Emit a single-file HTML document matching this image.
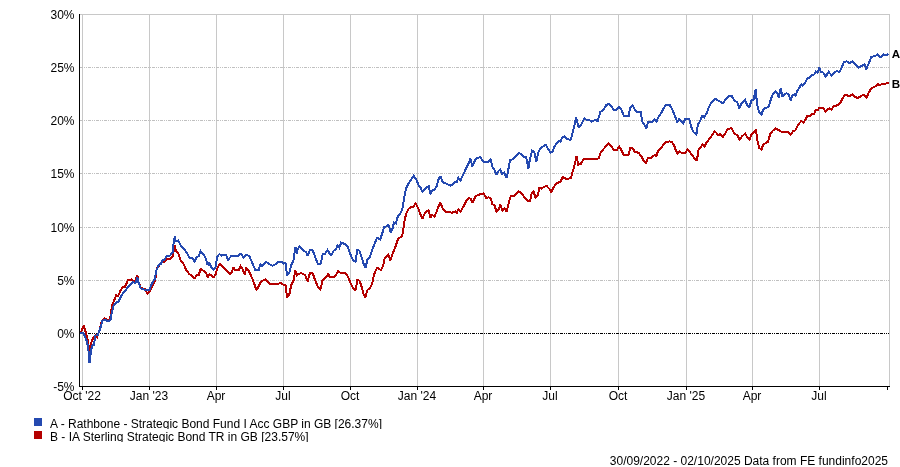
<!DOCTYPE html>
<html><head><meta charset="utf-8"><title>Chart</title>
<style>html,body{margin:0;padding:0;background:#fff}svg{display:block}text{font-family:"Liberation Sans",Arial,sans-serif;font-size:12px;fill:#000}</style></head><body>
<svg width="900" height="467" viewBox="0 0 900 467">
<rect width="900" height="467" fill="#fff"/>
<g shape-rendering="crispEdges">
<rect x="80" y="14" width="810" height="1" fill="#c8c8c8"/>
<rect x="889" y="14" width="1" height="372" fill="#c8c8c8"/>
<rect x="82" y="15" width="1" height="371" fill="#c8c8c8"/>
<rect x="149" y="15" width="1" height="371" fill="#c8c8c8"/>
<rect x="216" y="15" width="1" height="371" fill="#c8c8c8"/>
<rect x="283" y="15" width="1" height="371" fill="#c8c8c8"/>
<rect x="350" y="15" width="1" height="371" fill="#c8c8c8"/>
<rect x="417" y="15" width="1" height="371" fill="#c8c8c8"/>
<rect x="483" y="15" width="1" height="371" fill="#c8c8c8"/>
<rect x="550" y="15" width="1" height="371" fill="#c8c8c8"/>
<rect x="618" y="15" width="1" height="371" fill="#c8c8c8"/>
<rect x="686" y="15" width="1" height="371" fill="#c8c8c8"/>
<rect x="752" y="15" width="1" height="371" fill="#c8c8c8"/>
<rect x="819" y="15" width="1" height="371" fill="#c8c8c8"/>
<line x1="80" x2="889" y1="67.5" y2="67.5" stroke="#c0c0c0" stroke-width="1" stroke-dasharray="3 1 1 1 1 1"/>
<line x1="80" x2="889" y1="120.5" y2="120.5" stroke="#c0c0c0" stroke-width="1" stroke-dasharray="3 1 1 1 1 1"/>
<line x1="80" x2="889" y1="173.5" y2="173.5" stroke="#c0c0c0" stroke-width="1" stroke-dasharray="3 1 1 1 1 1"/>
<line x1="80" x2="889" y1="227.5" y2="227.5" stroke="#c0c0c0" stroke-width="1" stroke-dasharray="3 1 1 1 1 1"/>
<line x1="80" x2="889" y1="280.5" y2="280.5" stroke="#c0c0c0" stroke-width="1" stroke-dasharray="3 1 1 1 1 1"/>
<line x1="80" x2="889" y1="333.5" y2="333.5" stroke="#000" stroke-width="1" stroke-dasharray="3 1 1 1 1 1"/>
</g>
<g fill="none" stroke-width="2" stroke-linejoin="miter" stroke-miterlimit="2.1" shape-rendering="crispEdges"><polyline stroke="#b40000" points="80.0,333.0 81.8,330.5 83.7,325.5 85.6,331.9 87.6,339.6 89.5,351.5 90.8,343.4 93.4,337.6 95.3,335.2 97.2,337.0 99.8,329.3 101.7,321.0 104.3,318.4 108.0,320.2 110.0,319.0 111.0,312.6 112.0,305.8 114.5,299.7 116.0,295.2 118.2,296.0 120.5,290.7 122.7,287.0 125.0,286.6 128.0,280.2 131.7,279.4 134.7,281.7 137.4,275.7 138.5,281.7 140.7,287.7 145.2,289.2 147.5,293.7 149.7,291.4 152.7,285.4 155.4,279.4 156.7,269.0 158.7,266.0 161.7,262.2 164.7,261.5 167.7,258.5 170.7,258.5 172.9,256.2 174.7,245.0 175.9,251.0 178.2,253.2 180.4,260.0 183.4,263.7 185.7,269.0 188.7,273.4 191.6,275.7 194.6,278.2 196.9,275.0 198.7,275.0 200.6,269.0 202.9,270.4 205.9,272.7 207.7,277.2 209.6,274.2 211.9,275.7 213.7,277.2 215.6,274.2 217.6,267.4 220.1,263.7 223.0,267.2 226.7,271.0 229.7,274.0 232.0,271.7 233.5,267.2 235.0,270.2 238.7,270.2 240.7,266.2 242.5,268.7 244.7,274.7 246.2,268.0 248.5,270.2 252.2,278.4 254.5,284.4 256.3,289.7 258.2,287.4 260.1,283.0 262.7,280.7 265.7,279.2 269.4,283.7 278.4,283.7 280.7,282.6 283.7,285.2 285.5,285.2 287.1,297.6 289.2,295.0 291.2,285.2 293.7,280.0 295.4,270.2 296.7,275.4 298.7,273.7 301.6,273.2 305.4,275.4 307.6,281.4 309.9,273.2 312.6,273.2 315.1,280.0 318.1,287.4 320.4,289.7 322.6,280.0 325.6,277.7 328.2,274.2 330.0,277.0 333.7,277.0 336.0,274.7 338.2,271.2 340.5,272.7 345.0,272.7 347.7,276.2 350.5,283.0 353.2,288.2 355.5,290.4 357.4,279.6 359.5,280.7 361.8,287.4 363.7,295.0 365.5,297.2 367.5,289.7 369.7,288.6 371.9,284.4 374.2,274.0 377.2,267.7 380.9,270.2 383.2,265.7 384.7,258.2 388.4,254.5 390.4,260.5 392.9,253.0 395.9,245.5 398.2,238.3 401.2,236.8 402.4,235.0 403.7,227.2 404.8,219.0 406.7,212.2 409.0,208.4 411.2,207.0 413.4,206.7 415.7,203.2 417.9,207.7 420.2,213.7 422.4,218.6 425.4,212.2 428.4,210.2 430.4,217.4 432.2,214.7 434.4,216.7 436.7,211.4 438.6,206.2 440.4,202.5 442.7,208.4 446.4,212.2 452.4,212.6 455.4,211.4 456.9,212.6 458.4,209.2 460.6,211.7 463.6,206.2 466.6,200.5 468.9,198.0 470.7,198.7 472.6,202.5 474.9,197.5 476.7,195.7 480.0,194.2 483.7,193.3 486.4,198.4 488.6,197.2 490.9,198.4 492.4,204.0 494.6,205.5 496.5,211.5 498.7,209.2 500.4,204.7 502.5,210.3 504.3,208.5 506.6,211.5 508.8,202.5 510.7,196.1 514.5,195.7 518.6,191.2 521.6,193.5 527.2,200.6 530.2,200.6 531.3,194.2 533.6,191.6 535.4,197.2 538.0,194.6 539.4,187.8 541.1,188.6 544.1,186.7 546.7,186.0 549.4,189.0 551.3,192.7 553.1,188.2 556.1,183.7 560.6,181.4 562.9,177.0 566.6,179.2 571.1,177.7 572.6,171.7 574.7,164.7 576.5,156.4 578.2,164.7 580.7,164.0 583.7,159.1 597.2,159.1 598.7,157.9 601.0,151.9 604.7,147.7 608.4,143.7 611.4,146.7 613.7,149.7 616.7,150.1 619.2,146.7 621.6,150.4 623.4,154.6 628.7,154.6 630.2,148.2 632.4,147.7 634.7,151.9 638.4,152.7 641.4,156.4 643.7,160.9 645.9,163.2 648.1,157.6 651.1,157.9 654.9,154.9 656.4,156.1 658.2,150.4 661.6,147.4 665.4,142.2 669.9,141.4 671.6,141.9 674.0,144.8 675.4,149.1 677.5,153.4 679.4,151.2 681.5,152.8 685.5,152.8 687.4,149.1 690.3,152.6 693.6,157.1 696.5,160.6 697.8,155.5 698.1,150.4 700.8,147.2 702.4,144.6 704.5,146.4 706.4,142.7 711.0,136.7 714.7,131.1 718.4,135.2 719.9,134.1 722.9,136.7 725.2,133.7 727.4,129.2 731.6,128.1 734.2,133.7 737.2,135.2 739.7,139.7 742.4,135.9 745.1,133.7 746.9,136.7 749.5,139.7 751.4,134.1 753.7,132.6 755.9,129.6 757.4,140.4 759.2,147.9 761.4,149.7 763.4,144.2 767.9,141.9 770.1,134.4 772.4,131.1 775.7,128.4 778.4,129.9 781.5,131.8 787.5,131.8 790.5,134.8 793.1,131.1 795.4,130.3 797.2,126.6 799.1,123.6 801.3,121.0 803.6,122.5 805.8,119.1 807.3,116.1 810.3,115.7 811.8,113.9 814.1,113.9 815.6,110.1 818.2,109.7 819.3,107.5 823.4,107.9 825.5,111.6 827.6,109.0 829.4,108.4 831.5,109.7 833.6,106.0 836.2,105.6 838.4,104.7 840.7,102.2 842.9,97.7 845.2,94.7 849.7,96.2 852.7,94.2 854.2,96.6 857.9,98.1 861.6,95.7 863.9,95.1 866.6,97.7 868.4,93.2 871.4,88.2 875.1,86.4 877.7,84.2 879.6,85.2 882.6,83.7 888.6,83.4"/><polyline stroke="#2449b0" points="80.0,333.5 83.5,333.2 86.3,339.6 88.2,347.3 89.5,363.0 90.8,352.4 92.0,346.0 94.0,344.7 95.3,335.7 97.8,335.0 100.4,328.0 102.3,321.0 105.0,319.6 108.0,321.6 110.7,319.0 111.7,312.8 113.6,306.0 116.2,302.6 118.8,301.3 121.3,295.6 125.8,289.8 129.0,285.9 132.7,281.8 135.5,283.2 137.3,277.2 138.5,282.4 140.7,288.4 145.2,290.0 149.3,290.0 152.0,283.2 154.6,279.4 156.4,270.4 158.7,265.2 161.0,263.7 162.4,260.7 164.7,259.2 167.0,256.2 170.0,255.5 172.6,252.5 173.7,242.0 174.7,236.7 175.9,241.2 178.2,240.5 180.4,245.0 183.4,248.0 187.2,253.2 189.4,257.7 192.4,257.7 194.6,261.5 196.9,257.0 198.7,256.2 200.6,251.0 203.6,254.7 205.9,258.5 207.7,265.2 208.9,262.2 211.1,266.7 213.7,269.7 215.6,266.7 217.1,257.0 219.4,254.0 221.6,255.5 226.0,255.2 228.2,259.7 231.2,256.0 238.0,256.0 240.7,253.7 243.7,257.5 246.2,254.5 249.2,256.0 252.2,262.7 255.2,269.8 258.7,269.8 260.4,264.2 262.0,265.7 266.4,262.0 269.4,264.2 272.4,265.7 275.4,264.2 278.4,261.7 281.4,261.7 283.7,263.5 285.5,262.7 287.1,275.4 289.2,273.2 291.2,265.0 293.4,260.5 295.4,247.0 296.7,253.7 297.6,249.2 299.4,246.7 303.1,250.0 306.1,252.2 307.6,256.0 309.9,250.0 312.6,250.0 315.1,256.7 317.7,263.5 320.7,263.5 322.6,254.5 324.9,253.7 327.6,250.0 330.0,254.5 331.5,255.2 333.7,250.7 336.0,249.2 337.5,245.5 339.3,247.7 341.2,242.5 345.0,244.3 347.7,247.0 350.5,254.5 353.2,260.5 355.5,261.7 357.4,250.0 359.5,250.7 361.8,257.5 363.7,264.2 365.5,268.0 367.5,259.0 369.7,257.5 371.9,250.7 374.2,244.7 377.2,237.7 380.2,239.5 382.0,234.0 384.2,227.2 386.5,226.4 388.3,224.2 390.7,232.4 392.5,228.7 394.0,222.7 395.8,223.4 397.7,216.7 400.0,213.7 402.2,210.0 403.7,201.0 405.2,192.0 406.7,186.7 409.7,181.5 413.7,175.8 416.4,180.0 418.7,185.2 420.9,188.2 422.4,192.0 425.4,188.2 428.7,186.3 430.4,194.2 432.2,190.5 434.4,190.2 436.7,186.0 438.6,179.2 440.4,176.2 442.7,182.2 446.4,183.7 450.9,185.7 454.6,182.2 456.9,182.0 458.3,177.7 460.5,180.4 463.2,174.7 466.2,168.0 468.8,162.7 470.4,158.2 472.2,166.5 474.5,161.2 476.7,158.2 480.2,157.2 483.5,161.7 488.7,161.7 490.7,159.7 492.2,166.5 494.3,169.8 496.5,174.7 498.4,171.0 500.2,169.5 502.2,174.2 504.0,172.5 506.7,177.7 508.2,170.2 510.1,160.2 513.4,159.0 516.4,156.0 518.7,153.0 521.7,154.2 523.2,156.7 526.2,157.2 528.4,168.7 529.9,159.0 532.2,150.7 534.4,152.2 536.3,162.0 538.1,153.0 540.4,148.2 543.4,146.2 545.9,144.7 548.2,149.2 550.6,152.7 552.7,151.2 554.6,146.2 557.6,142.5 559.1,140.7 560.6,141.7 562.1,137.7 564.4,136.2 566.6,138.6 568.0,139.2 570.5,140.2 572.5,133.2 574.7,124.2 576.2,117.5 578.5,127.2 580.7,125.7 583.0,121.2 584.5,118.2 586.7,120.2 588.7,119.7 591.7,121.7 595.7,119.7 597.7,121.2 600.2,112.2 603.2,110.0 606.2,105.2 608.7,103.7 611.4,106.7 613.7,109.7 615.9,110.0 619.2,107.0 621.6,110.0 623.7,115.7 628.7,115.7 630.2,107.7 632.4,105.2 634.7,109.2 636.9,111.8 640.7,112.2 642.2,121.7 644.4,125.0 646.3,128.3 648.1,122.0 651.9,122.0 654.6,119.7 656.4,121.7 658.6,116.7 661.6,112.7 663.9,107.7 666.1,105.2 669.6,104.7 672.1,109.2 674.4,114.5 677.2,121.7 679.2,119.2 683.2,123.2 685.5,118.7 689.2,118.7 691.2,127.0 693.7,132.2 696.4,134.4 697.9,124.7 700.5,120.2 702.3,115.7 704.2,117.2 706.5,113.5 708.7,107.5 711.0,103.0 715.1,98.8 718.4,100.7 722.9,103.3 725.9,99.2 728.6,95.8 731.6,95.8 734.2,100.3 737.2,102.2 739.4,108.2 741.7,103.0 745.1,100.0 746.9,104.5 749.2,107.5 751.4,100.7 753.7,99.2 755.6,89.5 756.6,99.2 757.7,107.5 759.6,112.7 761.4,114.7 763.4,109.0 768.6,106.7 770.9,99.2 773.1,93.7 775.6,91.3 777.8,93.4 778.7,97.5 779.7,92.7 780.7,88.0 781.6,92.7 782.5,96.8 784.5,94.7 786.4,93.2 788.8,94.8 790.6,100.5 792.0,96.0 794.3,94.2 795.6,95.5 797.5,90.6 799.8,86.8 801.3,84.2 802.8,85.7 804.7,83.7 807.0,78.7 810.0,77.2 812.2,75.2 814.5,74.2 816.0,71.5 817.5,73.0 819.4,67.7 820.7,71.5 823.4,72.7 825.7,76.7 828.7,71.8 831.7,75.7 834.7,72.2 836.9,71.2 839.2,71.8 841.4,68.5 843.7,62.5 846.7,61.3 849.7,63.2 852.7,61.3 854.9,64.3 858.7,67.7 862.4,65.5 864.6,64.0 866.4,69.2 868.4,64.0 871.4,56.8 875.1,56.2 877.4,54.2 879.6,56.8 881.9,56.5 883.4,54.2 885.6,55.0 888.6,54.2"/></g>
<g shape-rendering="crispEdges">
<rect x="79" y="14" width="1" height="373" fill="#000"/>
<rect x="79" y="386" width="811" height="1" fill="#000"/>
<rect x="82" y="387" width="1" height="3" fill="#000"/>
<rect x="149" y="387" width="1" height="3" fill="#000"/>
<rect x="216" y="387" width="1" height="3" fill="#000"/>
<rect x="283" y="387" width="1" height="3" fill="#000"/>
<rect x="350" y="387" width="1" height="3" fill="#000"/>
<rect x="417" y="387" width="1" height="3" fill="#000"/>
<rect x="483" y="387" width="1" height="3" fill="#000"/>
<rect x="550" y="387" width="1" height="3" fill="#000"/>
<rect x="618" y="387" width="1" height="3" fill="#000"/>
<rect x="686" y="387" width="1" height="3" fill="#000"/>
<rect x="752" y="387" width="1" height="3" fill="#000"/>
<rect x="819" y="387" width="1" height="3" fill="#000"/>
<rect x="887" y="387" width="1" height="3" fill="#000"/>
<rect x="34" y="418" width="8" height="8" fill="#2449b0"/><rect x="34" y="431" width="8" height="8" fill="#b40000"/>
</g>
<text x="74.5" y="19" text-anchor="end">30%</text>
<text x="74.5" y="72" text-anchor="end">25%</text>
<text x="74.5" y="125" text-anchor="end">20%</text>
<text x="74.5" y="178" text-anchor="end">15%</text>
<text x="74.5" y="232" text-anchor="end">10%</text>
<text x="74.5" y="285" text-anchor="end">5%</text>
<text x="74.5" y="338" text-anchor="end">0%</text>
<text x="74.5" y="391" text-anchor="end">-5%</text>
<text x="82" y="400" text-anchor="middle">Oct '22</text>
<text x="149" y="400" text-anchor="middle">Jan '23</text>
<text x="216" y="400" text-anchor="middle">Apr</text>
<text x="283" y="400" text-anchor="middle">Jul</text>
<text x="350" y="400" text-anchor="middle">Oct</text>
<text x="417" y="400" text-anchor="middle">Jan '24</text>
<text x="483" y="400" text-anchor="middle">Apr</text>
<text x="550" y="400" text-anchor="middle">Jul</text>
<text x="618" y="400" text-anchor="middle">Oct</text>
<text x="686" y="400" text-anchor="middle">Jan '25</text>
<text x="752" y="400" text-anchor="middle">Apr</text>
<text x="819" y="400" text-anchor="middle">Jul</text>
<text x="891.7" y="58" font-weight="bold" style="font-size:11.6px">A</text><text x="891.7" y="87.7" font-weight="bold" style="font-size:11.6px">B</text>
<defs><clipPath id="c1"><rect x="40" y="414" width="500" height="15"/></clipPath><clipPath id="c2"><rect x="40" y="429" width="500" height="13"/></clipPath></defs>
<text x="50" y="428" clip-path="url(#c1)">A - Rathbone - Strategic Bond Fund I Acc GBP in GB [26.37%]</text>
<text x="50" y="441" clip-path="url(#c2)">B - IA Sterling Strategic Bond TR in GB [23.57%]</text>
<text x="888" y="465" text-anchor="end">30/09/2022 - 02/10/2025 Data from FE fundinfo2025</text>
</svg></body></html>
